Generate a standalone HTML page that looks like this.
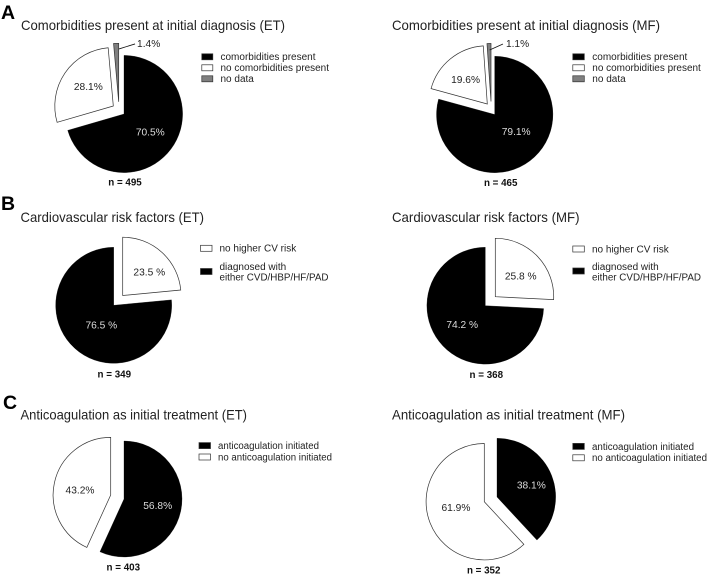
<!DOCTYPE html>
<html lang="en">
<head>
<meta charset="utf-8">
<title>Comorbidities, cardiovascular risk and anticoagulation pie charts</title>
<style>
html,body{margin:0;padding:0;background:#fff;width:709px;height:578px;overflow:hidden}
svg{display:block}
text{font-family:"Liberation Sans",Arial,sans-serif;fill:#222}
.panel{font-size:19.5px;font-weight:bold;fill:#000}
.title{font-size:13.8px}
.leg{font-size:10px}
.val{font-size:10.2px}
.n{font-size:9.8px;font-weight:bold;fill:#111}
.sw{stroke:#333;stroke-width:.7}
</style>
</head>
<body>
<svg id="figure" width="709" height="578" viewBox="0 0 709 578" xmlns="http://www.w3.org/2000/svg">
  <text class="panel" x="1" y="19">A</text>
  <text class="panel" x="1" y="210">B</text>
  <text class="panel" x="3" y="409">C</text>

  <text class="title" x="21" y="30" textLength="264" lengthAdjust="spacingAndGlyphs">Comorbidities present at initial diagnosis (ET)</text>
  <text class="title" x="392" y="30" textLength="268" lengthAdjust="spacingAndGlyphs">Comorbidities present at initial diagnosis (MF)</text>
  <text class="title" x="20.5" y="222" textLength="183.5" lengthAdjust="spacingAndGlyphs">Cardiovascular risk factors (ET)</text>
  <text class="title" x="392" y="222" textLength="187.5" lengthAdjust="spacingAndGlyphs">Cardiovascular risk factors (MF)</text>
  <text class="title" x="20.5" y="419.3" textLength="226.5" lengthAdjust="spacingAndGlyphs">Anticoagulation as initial treatment (ET)</text>
  <text class="title" x="392" y="419.3" textLength="233" lengthAdjust="spacingAndGlyphs">Anticoagulation as initial treatment (MF)</text>

  <g id="charts"></g>

  <g>
    <rect class="sw" x="201.8" y="53.8" width="11" height="6" fill="#000"/>
    <text class="leg" x="220.5" y="60" textLength="95" lengthAdjust="spacingAndGlyphs">comorbidities present</text>
    <rect class="sw" x="201.8" y="64.8" width="11" height="6" fill="#fff"/>
    <text class="leg" x="220.5" y="71" textLength="108.5" lengthAdjust="spacingAndGlyphs">no comorbidities present</text>
    <rect class="sw" x="201.8" y="75.8" width="11" height="6" fill="#7f7f7f"/>
    <text class="leg" x="220.5" y="82">no data</text>
  </g>
  <g>
    <rect class="sw" x="572.8" y="53.8" width="11.5" height="6" fill="#000"/>
    <text class="leg" x="592.3" y="60" textLength="95" lengthAdjust="spacingAndGlyphs">comorbidities present</text>
    <rect class="sw" x="572.8" y="64.8" width="11.5" height="6" fill="#fff"/>
    <text class="leg" x="592.3" y="71" textLength="108.5" lengthAdjust="spacingAndGlyphs">no comorbidities present</text>
    <rect class="sw" x="572.8" y="75.8" width="11.5" height="6" fill="#7f7f7f"/>
    <text class="leg" x="592.3" y="82">no data</text>
  </g>
  <g>
    <rect class="sw" x="200.5" y="245.3" width="11.5" height="6" fill="#fff"/>
    <text class="leg" x="219.5" y="251.7">no higher CV risk</text>
    <rect class="sw" x="200.5" y="268.5" width="11.5" height="6" fill="#000"/>
    <text class="leg" x="219.5" y="270">diagnosed with</text>
    <text class="leg" x="219.5" y="280.3" textLength="109" lengthAdjust="spacingAndGlyphs">either CVD/HBP/HF/PAD</text>
  </g>
  <g>
    <rect class="sw" x="572.8" y="246" width="11.5" height="6" fill="#fff"/>
    <text class="leg" x="592" y="252.5">no higher CV risk</text>
    <rect class="sw" x="572.8" y="268" width="11.5" height="6" fill="#000"/>
    <text class="leg" x="592" y="270">diagnosed with</text>
    <text class="leg" x="592" y="280.5" textLength="109" lengthAdjust="spacingAndGlyphs">either CVD/HBP/HF/PAD</text>
  </g>
  <g>
    <rect class="sw" x="199" y="442.6" width="11.5" height="6" fill="#000"/>
    <text class="leg" x="218" y="449" textLength="101" lengthAdjust="spacingAndGlyphs">anticoagulation initiated</text>
    <rect class="sw" x="199" y="454" width="11.5" height="6" fill="#fff"/>
    <text class="leg" x="218" y="460.3" textLength="114" lengthAdjust="spacingAndGlyphs">no anticoagulation initiated</text>
  </g>
  <g>
    <rect class="sw" x="572.8" y="443.4" width="11.5" height="6" fill="#000"/>
    <text class="leg" x="592" y="450" textLength="102" lengthAdjust="spacingAndGlyphs">anticoagulation initiated</text>
    <rect class="sw" x="572.8" y="454.8" width="11.5" height="6" fill="#fff"/>
    <text class="leg" x="592" y="461" textLength="115" lengthAdjust="spacingAndGlyphs">no anticoagulation initiated</text>
  </g>
</svg>
<script>
// Data: slice values in percent, clockwise from 12 o'clock
const comorbiditiesEtValues = [70.5, 28.1, 1.4];
const comorbiditiesMfValues = [79.1, 19.6, 1.1];
const cvRiskEtValues = [23.5, 76.5];
const cvRiskMfValues = [25.8, 74.2];
const anticoagulationEtValues = [56.8, 43.2];
const anticoagulationMfValues = [38.1, 61.9];
const comorbiditiesCategories = ['present', 'not-present', 'no-data'];
const cvRiskCategories = ['no-risk', 'diagnosed'];
const anticoagEtCategories = ['initiated', 'not-initiated'];
const anticoagMfCategories = ['initiated', 'not-initiated'];
const sampleSizes = [495, 465, 349, 368, 403, 352];

// Layout, kept apart from the data
const styleFor = {
  'present': '#000', 'initiated': '#000', 'diagnosed': '#000',
  'not-present': '#fff', 'not-initiated': '#fff', 'no-risk': '#fff',
  'no-data': '#7f7f7f'
};
const LABEL_R = 30;
const panels = [
  { name: 'comorbidities-et', values: comorbiditiesEtValues, cats: comorbiditiesCategories, suffix: '%',
    apex: [[124, 114], [113.3, 106], [118.7, 101.8]], r: [58.6, 58.5, 58.5],
    nudge: [[2.3, 0.2], [-0.2, -2.6], [2.7, 0.9]], leader: [16, -5, 2, 3.3], nX: 125, nY: 185.7 },
  { name: 'comorbidities-mf', values: comorbiditiesMfValues, cats: comorbiditiesCategories, suffix: '%',
    apex: [[494.7, 114.5], [487.3, 104], [491, 101.5]], r: [58.2, 58.3, 58],
    nudge: [[3.3, -6.5], [-2.7, -1.3], [0.5, 1.8]], leader: [13.3, -6, 3, 3], nX: 500.7, nY: 186 },
  { name: 'cv-risk-et', values: cvRiskEtValues, cats: cvRiskCategories, suffix: ' %',
    apex: [[122.7, 295.5], [113.7, 305.3]], r: [58.3, 58],
    nudge: [[6.4, -0.9], [7.8, -2.5]], nX: 114.3, nY: 377.7 },
  { name: 'cv-risk-mf', values: cvRiskMfValues, cats: cvRiskCategories, suffix: ' %',
    apex: [[495.3, 296.7], [485.3, 305.7]], r: [58.4, 58.4],
    nudge: [[3.7, 0], [-1.3, -1.7]], nX: 486.3, nY: 378 },
  { name: 'anticoagulation-et', values: anticoagulationEtValues, cats: anticoagEtCategories, suffix: '%',
    apex: [[124, 499], [110.7, 495]], r: [58, 57.6],
    nudge: [[4.4, 0.3], [-1.4, 1.4]], nX: 123.3, nY: 570.7 },
  { name: 'anticoagulation-mf', values: anticoagulationMfValues, cats: anticoagMfCategories, suffix: '%',
    apex: [[497, 497], [484.3, 501.7]], r: [58.7, 58.2],
    nudge: [[6.4, -1], [-0.4, -4.9]], nX: 483.7, nY: 573.7 }
];

const NS = 'http://www.w3.org/2000/svg';
const root = document.getElementById('charts');

function total(values) {
  return values.reduce(function (a, b) { return a + b; }, 0);
}
function angleScale(value, sum) {
  return value / sum * 2 * Math.PI;
}
function polar(cx, cy, r, a) {
  return [cx + r * Math.sin(a), cy - r * Math.cos(a)];
}
function wedgePath(cx, cy, r, a0, a1) {
  const p0 = polar(cx, cy, r, a0);
  const p1 = polar(cx, cy, r, a1);
  const large = a1 - a0 > Math.PI ? 1 : 0;
  return 'M' + cx + ' ' + cy + 'L' + p0[0] + ' ' + p0[1] +
    'A' + r + ' ' + r + ' 0 ' + large + ' 1 ' + p1[0] + ' ' + p1[1] + 'Z';
}

panels.forEach(function (panel, pi) {
  const group = document.createElementNS(NS, 'g');
  
  
  root.appendChild(group);

  const sum = total(panel.values);
  let start = 0;
  panel.values.forEach(function (value, i) {
    const sweep = angleScale(value, sum);
    const end = start + sweep;
    const mid = start + sweep / 2;
    const cx = panel.apex[i][0];
    const cy = panel.apex[i][1];
    const r = panel.r[i];
    const cat = panel.cats[i];
    const fill = styleFor[cat];

    const path = document.createElementNS(NS, 'path');
    path.setAttribute('d', wedgePath(cx, cy, r, start, end));
    path.setAttribute('fill', fill);
    path.setAttribute('stroke', fill === '#000' ? '#000' : '#333');
    path.setAttribute('stroke-width', fill === '#000' ? '0.3' : '0.7');
    path.setAttribute('stroke-linejoin', 'miter');
    
    
    group.appendChild(path);

    const label = document.createElementNS(NS, 'text');
    label.setAttribute('class', 'val');
    label.textContent = value.toFixed(1) + panel.suffix;
    
    

    if (cat === 'no-data') {
      const s = polar(cx, cy, r * 0.92, mid);
      const x1 = s[0] + panel.nudge[i][0];
      const y1 = s[1] + panel.nudge[i][1];
      const x2 = x1 + panel.leader[0];
      const y2 = y1 + panel.leader[1];
      const line = document.createElementNS(NS, 'line');
      line.setAttribute('x1', x1);
      line.setAttribute('y1', y1);
      line.setAttribute('x2', x2);
      line.setAttribute('y2', y2);
      line.setAttribute('stroke', '#111');
      line.setAttribute('stroke-width', '0.8');
      
      
      group.appendChild(line);
      label.setAttribute('x', x2 + panel.leader[2]);
      label.setAttribute('y', y2 + panel.leader[3]);
    } else {
      const p = polar(cx, cy, LABEL_R, mid);
      label.setAttribute('x', p[0] + panel.nudge[i][0]);
      label.setAttribute('y', p[1] + 3.3 + panel.nudge[i][1]);
      label.setAttribute('text-anchor', 'middle');
      label.setAttribute('style', 'fill:' + (fill === '#000' ? '#ddd' : '#222'));
    }
    group.appendChild(label);
    start = end;
  });

  const n = document.createElementNS(NS, 'text');
  n.setAttribute('class', 'n');
  n.setAttribute('x', panel.nX);
  n.setAttribute('y', panel.nY);
  n.setAttribute('text-anchor', 'middle');
  n.textContent = 'n = ' + sampleSizes[pi];
  
  
  group.appendChild(n);
});
</script>
</body>
</html>
